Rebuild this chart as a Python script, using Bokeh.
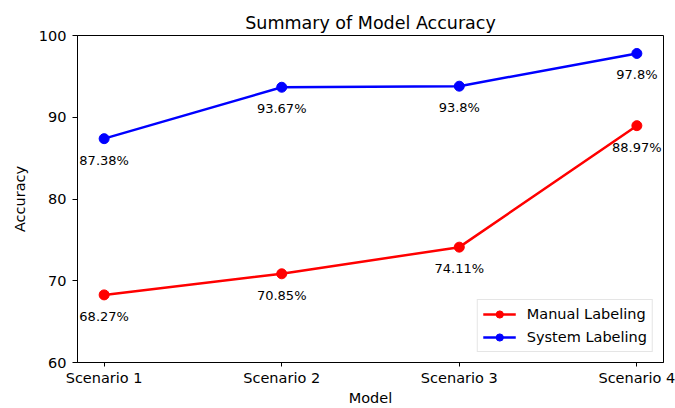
from bokeh.plotting import figure
from bokeh.models import FixedTicker, Legend, LegendItem, ColumnDataSource, Range1d
from bokeh.core.properties import value
from bokeh.embed import file_html
from bokeh.resources import INLINE

categories = ["Scenario 1", "Scenario 2", "Scenario 3", "Scenario 4"]
manual = [68.27, 70.85, 74.11, 88.97]
system = [87.38, 93.67, 93.8, 97.8]
y_ticks = [60, 70, 80, 90, 100]

x = list(range(len(categories)))
FONT = "DejaVu Sans"

p = figure(width=675, height=408, output_backend="svg", toolbar_location=None,
           x_range=Range1d(-0.15, 3.15), y_range=Range1d(60, 100),
           title="Summary of Model Accuracy", x_axis_label="Model", y_axis_label="Accuracy",
           min_border_left=77, min_border_right=12, min_border_top=35, min_border_bottom=46)

p.background_fill_color = "white"
p.border_fill_color = "white"
p.xgrid.visible = False
p.ygrid.visible = False
p.outline_line_color = "black"
p.outline_line_width = 1
p.outline_line_alpha = 1

p.title.align = "center"
p.title.text_font = FONT
p.title.text_font_size = "17.5px"
p.title.text_font_style = "normal"
p.title.text_color = "black"
p.title.standoff = 6

for ax in (p.xaxis[0], p.yaxis[0]):
    ax.axis_line_color = "black"
    ax.major_tick_line_color = "black"
    ax.major_tick_out = 5
    ax.major_tick_in = 0
    ax.minor_tick_line_color = None
    ax.major_label_text_font = FONT
    ax.major_label_text_font_size = "14.5px"
    ax.major_label_text_color = "black"
    ax.axis_label_text_font = FONT
    ax.axis_label_text_font_size = "14.5px"
    ax.axis_label_text_font_style = "normal"
    ax.axis_label_text_color = "black"

p.xaxis.ticker = FixedTicker(ticks=x)
p.xaxis.major_label_overrides = {i: c for i, c in enumerate(categories)}
p.xaxis.major_tick_out = 4
p.xaxis.major_label_standoff = 3
p.xaxis.axis_label_standoff = 1
p.yaxis.ticker = FixedTicker(ticks=y_ticks)
p.yaxis.major_label_standoff = 6
p.yaxis.axis_label_standoff = 8

items = []
for name, vals, color in (("Manual Labeling", manual, "red"), ("System Labeling", system, "blue")):
    src = ColumnDataSource(dict(x=x, y=vals, lab=[f"{v}%" for v in vals]))
    rl = p.line("x", "y", source=src, line_color=color, line_width=2.5)
    rs = p.scatter("x", "y", source=src, size=10, fill_color=color, line_color=color)
    p.text("x", "y", text="lab", source=src, text_font=value(FONT), text_font_size="13px",
           text_color="black", text_align="center", text_baseline="top", y_offset=14)
    items.append(LegendItem(label=name, renderers=[rl, rs]))

legend = Legend(items=items, location="bottom_right")
legend.label_text_font = FONT
legend.label_text_font_size = "14.5px"
legend.label_text_color = "black"
legend.glyph_width = 33
legend.glyph_height = 18
legend.label_standoff = 11
legend.padding = 5
legend.spacing = 5
legend.margin = 10
legend.border_line_color = "#cccccc"
legend.border_line_width = 1
legend.background_fill_alpha = 0.8
p.add_layout(legend)

open("out.html", "w").write(file_html(p, INLINE))
